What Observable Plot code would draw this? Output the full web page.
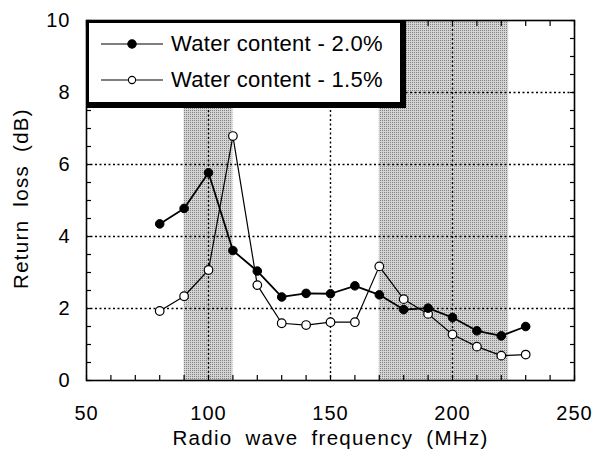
<!DOCTYPE html>
<html>
<head>
<meta charset="utf-8">
<script src="https://cdn.jsdelivr.net/npm/d3@7"></script>
<script src="https://cdn.jsdelivr.net/npm/@observablehq/plot@0.6"></script>
<style>
  html, body { margin: 0; padding: 0; background: #fff; }
  #wrap { position: relative; width: 594px; height: 450px; font-family: "Liberation Sans", Arial, sans-serif; }
  #wrap svg g[aria-label="text"] text { letter-spacing: 1.3px; word-spacing: 6px; }
  #wrap svg g[aria-label="x-axis tick label"] text,
  #wrap svg g[aria-label="y-axis tick label"] text { letter-spacing: 1px; }
  #legend {
    position: absolute; left: 86px; top: 20px; width: 311px; height: 79px;
    background: #fff; border-style: solid; border-color: #000;
    border-width: 3px 6px 6px 3px;
  }
  .row { position: absolute; left: 12px; height: 24px; display: flex; align-items: center; }
  .row span { font-size: 22px; letter-spacing: 0.3px; margin-left: 8px; color: #000; white-space: nowrap; }
</style>
</head>
<body>
<div id="wrap"></div>
<script>
// Frequency sweep (MHz) and measured return loss (dB)
const frequency = [80, 90, 100, 110, 120, 130, 140, 150, 160, 170, 180, 190, 200, 210, 220, 230];
const water20 = [4.35, 4.78, 5.77, 3.61, 3.04, 2.32, 2.42, 2.41, 2.63, 2.38, 1.97, 2.01, 1.75, 1.38, 1.24, 1.50];
const water15 = [1.93, 2.34, 3.07, 6.79, 2.65, 1.59, 1.54, 1.62, 1.62, 3.17, 2.26, 1.85, 1.28, 0.94, 0.69, 0.72];
const seriesNames = ["Water content - 2.0%", "Water content - 1.5%"];

// Shaded frequency bands
const bandStart = [90, 170];
const bandEnd = [110, 223];

// Axis ticks
const xLabels = [50, 100, 150, 200, 250];
const yLabels = [0, 2, 4, 6, 8, 10];
const xMinor = d3.range(50, 251, 10);
const yMinor = d3.range(0, 10.01, 0.5);
const xGrid = [100, 150, 200];
const yGrid = [2, 4, 6, 8];

const bands = bandStart.map((s, i) => ({start: s, end: bandEnd[i]}));
const s20 = frequency.map((f, i) => ({f, v: water20[i]}));
const s15 = frequency.map((f, i) => ({f, v: water15[i]}));

const dotted = {stroke: "#000", strokeOpacity: 1, strokeWidth: 1.4, strokeDasharray: "2,2.5"};

const chart = Plot.plot({
  width: 594,
  height: 450,
  marginLeft: 86,
  marginRight: 20,
  marginTop: 20,
  marginBottom: 70,
  style: {fontFamily: "'Liberation Sans', Arial, sans-serif", color: "#000", background: "#fff"},
  x: {domain: [50, 250]},
  y: {domain: [0, 10]},
  marks: [
    Plot.rect(bands, {x1: "start", x2: "end", fill: "url(#stipple)"}),
    Plot.gridX(xGrid, dotted),
    Plot.gridY(yGrid, dotted),
    Plot.frame({stroke: "#000", strokeWidth: 1.6}),
    // inward ticks on all four sides
    Plot.axisX(xMinor, {anchor: "bottom", tickSize: -5, text: null, label: null, strokeWidth: 1.2}),
    Plot.axisX(xMinor, {anchor: "top", tickSize: -5, text: null, label: null, strokeWidth: 1.2}),
    Plot.axisY(yMinor, {anchor: "left", tickSize: -5, text: null, label: null, strokeWidth: 1.2}),
    Plot.axisY(yMinor, {anchor: "right", tickSize: -5, text: null, label: null, strokeWidth: 1.2}),
    // tick labels
    Plot.axisX(xLabels, {anchor: "bottom", tickSize: 0, tickPadding: 25, fontSize: 20, label: null}),
    Plot.axisY(yLabels, {anchor: "left", tickSize: 0, tickPadding: 16, fontSize: 20, label: null}),
    // axis titles
    Plot.text(["Radio wave frequency (MHz)"], {
      frameAnchor: "bottom", lineAnchor: "middle", textAnchor: "middle",
      dy: 58, fontSize: 20.5, text: d => d
    }),
    Plot.text(["Return loss (dB)"], {
      frameAnchor: "left", lineAnchor: "middle", textAnchor: "middle",
      dx: -65, dy: -2, rotate: -90, fontSize: 20.5, text: d => d
    }),
    // series
    Plot.line(s15, {x: "f", y: "v", stroke: "#000", strokeWidth: 1.2}),
    Plot.line(s20, {x: "f", y: "v", stroke: "#000", strokeWidth: 1.8}),
    Plot.dot(s15, {x: "f", y: "v", r: 4.3, fill: "#fff", stroke: "#000", strokeWidth: 1.2}),
    Plot.dot(s20, {x: "f", y: "v", r: 4.3, fill: "#000", stroke: "#000", strokeWidth: 1})
  ]
});

// halftone fill used by the shaded bands
const defs = d3.create("svg:defs");
const pat = defs.append("pattern").attr("id", "stipple").attr("patternUnits", "userSpaceOnUse")
  .attr("width", 2).attr("height", 2);
pat.append("rect").attr("width", 2).attr("height", 2).attr("fill", "#d4d4d4");
pat.append("rect").attr("width", 1).attr("height", 1).attr("fill", "#808080");
chart.insertBefore(defs.node(), chart.firstChild);

const wrap = document.getElementById("wrap");
wrap.appendChild(chart);

// Legend box drawn over the upper-left of the plot
const legend = document.createElement("div");
legend.id = "legend";
const fills = ["#000", "#fff"];
const rowsTop = [9, 45];
seriesNames.forEach((name, i) => {
  const row = document.createElement("div");
  row.className = "row";
  row.style.top = rowsTop[i] + "px";
  const sw = d3.create("svg").attr("width", 62).attr("height", 24);
  sw.append("line").attr("x1", 0).attr("x2", 62).attr("y1", 12).attr("y2", 12)
    .attr("stroke", "#000").attr("stroke-width", 1.2);
  sw.append("circle").attr("cx", 31).attr("cy", 12).attr("r", i === 0 ? 4.2 : 3.6)
    .attr("fill", fills[i]).attr("stroke", "#000").attr("stroke-width", 1.1);
  row.appendChild(sw.node());
  const label = document.createElement("span");
  label.textContent = name;
  row.appendChild(label);
  legend.appendChild(row);
});
wrap.appendChild(legend);
</script>
</body>
</html>
